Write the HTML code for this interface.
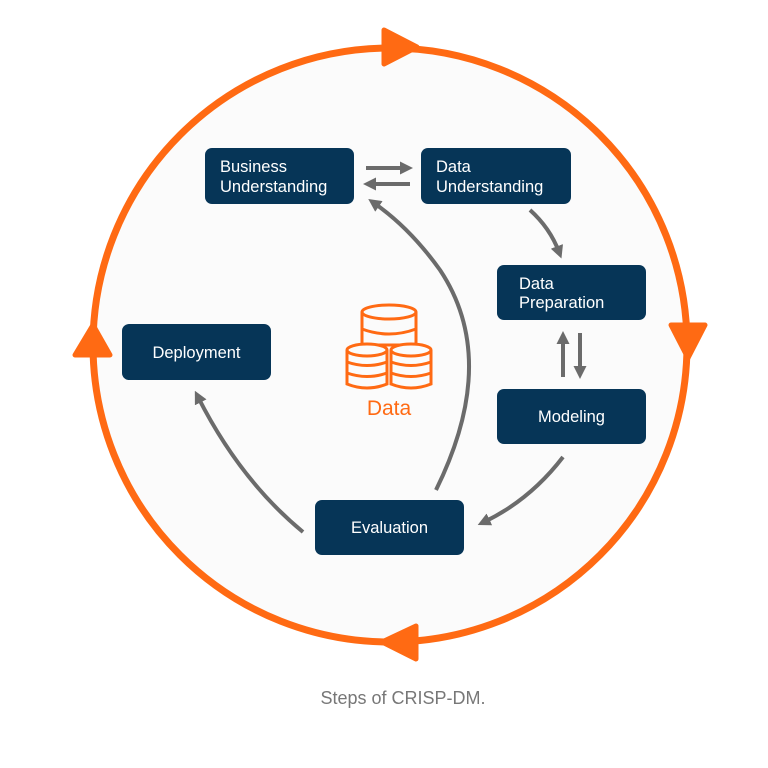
<!DOCTYPE html>
<html><head><meta charset="utf-8"><style>
html,body{margin:0;padding:0;background:#fff;}
svg{display:block;}
text{font-family:"Liberation Sans","DejaVu Sans",sans-serif;}
</style></head><body>
<svg width="768" height="768" viewBox="0 0 768 768" xmlns="http://www.w3.org/2000/svg">
<defs>
<marker id="ah" markerWidth="13" markerHeight="13" refX="6" refY="6.5" orient="auto" markerUnits="userSpaceOnUse">
<path d="M0,0 L13,6.5 L0,13 Z" fill="#6b6b6b"/>
</marker>
</defs>
<circle cx="390" cy="345" r="297" fill="#fbfbfb" stroke="#ff6a13" stroke-width="7"/>
<path d="M384,30 L417,47 L384,64 Z" fill="#ff6a13" stroke="#ff6a13" stroke-width="5" stroke-linejoin="round"/>
<path d="M671,325 L705,325 L688,358 Z" fill="#ff6a13" stroke="#ff6a13" stroke-width="5" stroke-linejoin="round"/>
<path d="M416,626 L416,659 L382,642 Z" fill="#ff6a13" stroke="#ff6a13" stroke-width="5" stroke-linejoin="round"/>
<path d="M75,355 L110,355 L93,325 Z" fill="#ff6a13" stroke="#ff6a13" stroke-width="5" stroke-linejoin="round"/>

<g stroke="#6b6b6b" stroke-width="4" fill="none" marker-end="url(#ah)">
<line x1="366" y1="168" x2="406" y2="168"/>
<line x1="410" y1="184" x2="370" y2="184"/>
<path d="M530,210 Q550,228 559,252"/>
<line x1="563" y1="377" x2="563" y2="338"/>
<line x1="580" y1="333" x2="580" y2="372"/>
<path d="M563,457 Q530,500 484,522"/>
<path d="M436,490 Q500,360 440,270 Q410,228 374,203"/>
<path d="M303,532 Q240,480 198,397"/>
</g>

<g fill="#063557">
<rect x="205" y="148" width="149" height="56" rx="7"/>
<rect x="421" y="148" width="150" height="56" rx="7"/>
<rect x="497" y="265" width="149" height="55" rx="7"/>
<rect x="497" y="389" width="149" height="55" rx="7"/>
<rect x="315" y="500" width="149" height="55" rx="7"/>
<rect x="122" y="324" width="149" height="56" rx="7"/>
</g>
<g fill="#fff" font-size="16.5">
<text x="220" y="172">Business</text>
<text x="220" y="192">Understanding</text>
<text x="436" y="172">Data</text>
<text x="436" y="192">Understanding</text>
<text x="519" y="289">Data</text>
<text x="519" y="308">Preparation</text>
<text x="571.5" y="422" text-anchor="middle">Modeling</text>
<text x="389.5" y="533" text-anchor="middle">Evaluation</text>
<text x="196.5" y="358" text-anchor="middle">Deployment</text>
</g>

<g stroke="#ff6a13" stroke-width="3" fill="#fbfbfb">
<path d="M362,312 L362,345 L416,345 L416,312"/>
<ellipse cx="389" cy="312" rx="27" ry="7"/>
<path d="M362,329 Q389,339 416,329" fill="none"/>
<path d="M347,350 L347,384 Q367,392 387,384 L387,350"/>
<ellipse cx="367" cy="350" rx="20" ry="6"/>
<path d="M347,362 Q367,369 387,362 M347,373 Q367,380 387,373" fill="none"/>
<path d="M391,350 L391,384 Q411,392 431,384 L431,350"/>
<ellipse cx="411" cy="350" rx="20" ry="6"/>
<path d="M391,362 Q411,369 431,362 M391,373 Q411,380 431,373" fill="none"/>
</g>
<text x="389" y="415" text-anchor="middle" font-size="21" fill="#ff6a13">Data</text>

<text x="403" y="704" text-anchor="middle" font-size="18" fill="#777">Steps of CRISP-DM.</text>
</svg>
</body></html>
